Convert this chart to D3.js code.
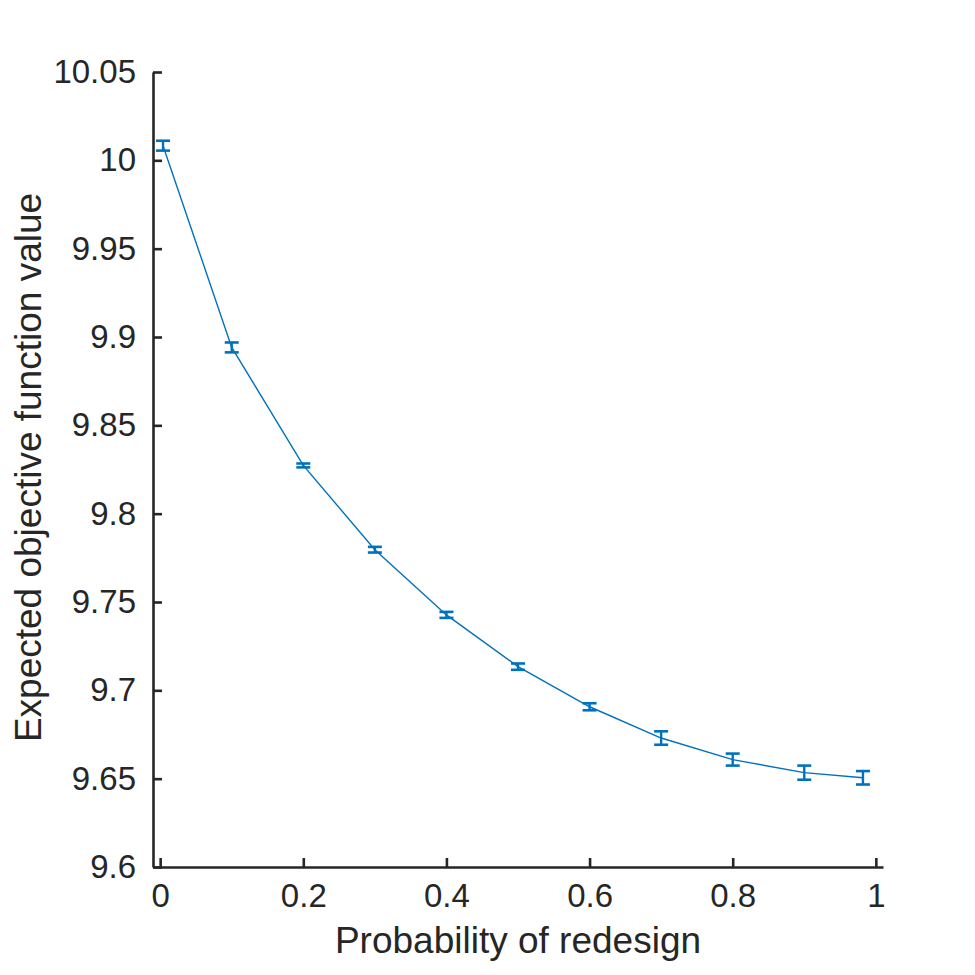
<!DOCTYPE html>
<html>
<head>
<meta charset="utf-8">
<script src="https://cdn.jsdelivr.net/npm/d3@7"></script>
<style>
  html, body { margin: 0; padding: 0; background: #fff; overflow: hidden; }
  svg { display: block; }
  svg text { font-family: "Liberation Sans", Arial, sans-serif; fill: #262626; }
</style>
</head>
<body>
<div id="chart"></div>
<script>
// values
const probability = [0.004, 0.1, 0.2, 0.3, 0.4, 0.5, 0.6, 0.7, 0.8, 0.9, 0.982];
const expectedValue = [10.0083, 9.8941, 9.8273, 9.7796, 9.7427, 9.7134, 9.6907, 9.6730, 9.6608, 9.6534, 9.6505];
const errorHalf = [0.0028, 0.0028, 0.0011, 0.0016, 0.0017, 0.0018, 0.0020, 0.0038, 0.0034, 0.0040, 0.0038];
const xTicks = [0, 0.2, 0.4, 0.6, 0.8, 1];
const yTicks = [9.6, 9.65, 9.7, 9.75, 9.8, 9.85, 9.9, 9.95, 10, 10.05];

const width = 975;
const height = 975;
const margin = { top: 72, right: 92, bottom: 108, left: 153 };
const innerWidth = width - margin.left - margin.right;
const innerHeight = height - margin.top - margin.bottom;
const blue = '#0072BD';
const axisColor = '#262626';

const svg = d3.select('#chart')
    .append('svg')
    .attr('width', width)
    .attr('height', height);

const g = svg.append('g')
    .attr('transform', `translate(${margin.left},${margin.top})`);

const x = d3.scaleLinear()
    .domain([-0.01, 1.01])
    .range([0, innerWidth]);

const y = d3.scaleLinear()
    .domain([9.6, 10.05])
    .range([innerHeight, 0]);

// axes, ticks pointing inward like MATLAB
const xAxis = g.append('g')
    .attr('transform', `translate(0,${innerHeight})`)
    .call(d3.axisBottom(x).tickValues(xTicks).tickSizeInner(-9).tickSizeOuter(0).tickPadding(17)
        .tickFormat(d => d3.format('~g')(d)));

const yAxis = g.append('g')
    .call(d3.axisLeft(y).tickValues(yTicks).tickSizeInner(-9).tickSizeOuter(0).tickPadding(17)
        .tickFormat(d => d3.format('~g')(d)));

[xAxis, yAxis].forEach(ax => {
    ax.select('.domain').attr('stroke', axisColor).attr('stroke-width', 2.6);
    ax.selectAll('.tick line').attr('stroke', axisColor).attr('stroke-width', 2.6);
    ax.selectAll('.tick text')
        .style('font-size', '33px')
        .style('fill', axisColor);
});
xAxis.selectAll('.tick text').attr('dy', '0.71em');

// line
const line = d3.line()
    .x((d, i) => x(probability[i]))
    .y(d => y(d));

g.append('path')
    .datum(expectedValue)
    .attr('fill', 'none')
    .attr('stroke', blue)
    .attr('stroke-width', 1.4)
    .attr('d', line);

// error bars
const capHalf = 7;
const bars = g.selectAll('.errbar')
    .data(expectedValue)
    .enter()
    .append('g')
    .attr('class', 'errbar');

bars.append('line')
    .attr('x1', (d, i) => x(probability[i]))
    .attr('x2', (d, i) => x(probability[i]))
    .attr('y1', (d, i) => y(d - errorHalf[i]))
    .attr('y2', (d, i) => y(d + errorHalf[i]))
    .attr('stroke', blue)
    .attr('stroke-width', 2.4);

[-1, 1].forEach(s => {
    bars.append('line')
        .attr('x1', (d, i) => x(probability[i]) - capHalf)
        .attr('x2', (d, i) => x(probability[i]) + capHalf)
        .attr('y1', (d, i) => y(d + s * errorHalf[i]))
        .attr('y2', (d, i) => y(d + s * errorHalf[i]))
        .attr('stroke', blue)
        .attr('stroke-width', 2.6);
});

// axis labels
g.append('text')
    .attr('x', x(0.5))
    .attr('y', innerHeight + 86)
    .attr('text-anchor', 'middle')
    .style('font-size', '37px')
    .text('Probability of redesign');

g.append('text')
    .attr('transform', 'rotate(-90)')
    .attr('x', -innerHeight / 2 + 2)
    .attr('y', -112)
    .attr('text-anchor', 'middle')
    .style('font-size', '37px')
    .text('Expected objective function value');
</script>
</body>
</html>
